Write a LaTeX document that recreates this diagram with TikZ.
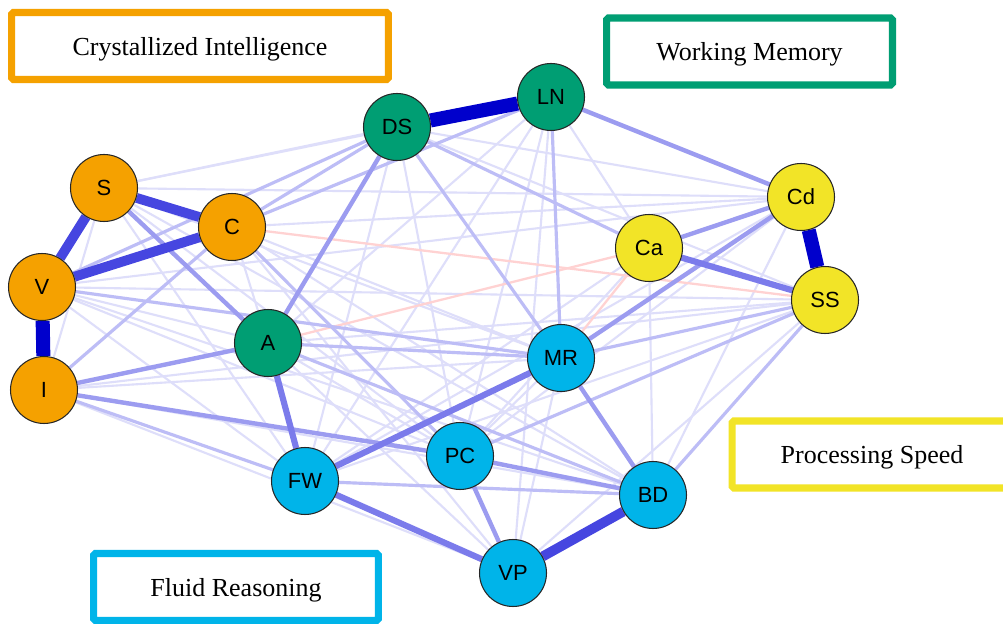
\documentclass[tikz,border=0pt]{standalone}
\usepackage{fontspec}
\setmainfont{Liberation Serif}
\newfontfamily\varfont{Liberation Sans}
\usetikzlibrary{positioning, backgrounds}

\definecolor{crycol}{HTML}{F5A100}
\definecolor{wmcol}{HTML}{009E73}
\definecolor{pscol}{HTML}{F2E427}
\definecolor{frcol}{HTML}{00B4E9}
\definecolor{eone}{HTML}{0000CC}
\definecolor{etwo}{HTML}{4646E0}
\definecolor{ethree}{HTML}{7B7BEB}
\definecolor{efour}{HTML}{9C9CF0}
\definecolor{efive}{HTML}{BDBDF6}
\definecolor{esix}{HTML}{DEDEFA}
\definecolor{eneg}{HTML}{FFD2D2}

\tikzset{
  var/.style={circle, draw=black!85, line width=0.6pt, minimum size=1.34cm,
    inner sep=0pt, font=\varfont\fontsize{12.5}{14}\selectfont},
  cry/.style={var, fill=crycol},
  wm/.style={var, fill=wmcol},
  ps/.style={var, fill=pscol},
  fr/.style={var, fill=frcol},
  legbox/.style={draw, line width=4pt, fill=white, rounded corners=1pt,
    font=\fontsize{14.8}{17}\selectfont, minimum height=1.34cm, text depth=0pt},
  wone/.style={eone, line width=8pt},
  wtwo/.style={etwo, line width=5.6pt},
  wthree/.style={ethree, line width=3.5pt},
  wfour/.style={efour, line width=2.5pt},
  wfive/.style={efive, line width=1.8pt},
  wsix/.style={esix, line width=1.2pt},
  wneg/.style={eneg, line width=1.3pt}
}

\begin{document}
\begin{tikzpicture}[x=0.02cm, y=-0.02cm]
  \useasboundingbox (0,0) rectangle (1003,624);
  \clip (0,0) rectangle (1003,624);

  % variables
  \node[cry] (S) at (104,188) {S};
  \node[cry] (C) at (232,227) {C};
  \node[cry] (V) at (42,287) {V};
  \node[cry] (I) at (44,390) {I};
  \node[wm] (A) at (268,343) {A};
  \node[wm] (DS) at (397,127) {DS};
  \node[wm] (LN) at (551,97) {LN};
  \node[ps] (Cd) at (801,197) {Cd};
  \node[ps] (Ca) at (649,248) {Ca};
  \node[ps] (SS) at (825,300) {SS};
  \node[fr] (MR) at (561,358) {MR};
  \node[fr] (PC) at (460,456) {PC};
  \node[fr] (FW) at (305,481) {FW};
  \node[fr] (BD) at (653,495) {BD};
  \node[fr] (VP) at (513,573) {VP};

  % factor labels
  \node[legbox, draw=crycol, minimum width=7.54cm] (cryl) at (200,46) {Crystallized Intelligence};
  \node[legbox, draw=wmcol, minimum width=5.72cm] (wml) at (749.5,51.5) {Working Memory};
  \node[legbox, draw=pscol, minimum width=5.6cm] (psl) at (872,454.5) {Processing Speed};
  \node[legbox, draw=frcol, minimum width=5.7cm] (frl) at (236,587) {Fluid Reasoning};

  \begin{scope}[on background layer]
    \fill[white] (0,0) rectangle (1003,624);
    % weak edges
    \foreach \a/\b in {S/DS, S/LN, S/Cd, S/MR, S/PC, S/FW, S/I, S/BD, C/LN, C/Cd,
        C/MR, C/A, C/BD, C/VP, V/A, V/FW, V/PC, V/Cd, V/SS, V/BD, I/MR, I/BD,
        I/VP, I/SS, A/PC, A/VP, A/LN, DS/FW, DS/PC, DS/Cd, DS/SS, LN/FW, LN/PC,
        LN/VP, LN/Ca, Ca/BD, Ca/PC, Ca/FW, Cd/PC, Cd/BD, Cd/FW, SS/VP, SS/FW,
        SS/A, MR/PC, MR/VP}
      \draw[wsix] (\a) -- (\b);
    \foreach \a/\b in {C/SS, A/Ca, MR/Ca}
      \draw[wneg] (\a) -- (\b);
    \foreach \a/\b in {DS/MR, LN/MR, C/PC, DS/C, V/DS, V/MR, SS/MR, SS/PC,
        SS/BD, DS/Ca, C/I, I/FW, FW/BD, A/BD, A/MR, LN/C}
      \draw[wfive] (\a) -- (\b);
    \foreach \a/\b in {MR/BD, LN/Cd, DS/A, A/I, PC/BD, PC/VP, Ca/Cd, MR/Cd,
        S/A, I/PC}
      \draw[wfour] (\a) -- (\b);
    \foreach \a/\b in {MR/FW, Ca/SS, FW/VP, A/FW}
      \draw[wthree] (\a) -- (\b);
    % strong edges
    \foreach \a/\b in {S/V, V/C, S/C, VP/BD}
      \draw[wtwo] (\a) -- (\b);
    \foreach \a/\b in {DS/LN, Cd/SS, V/I}
      \draw[wone] (\a) -- (\b);
  \end{scope}
\end{tikzpicture}
\end{document}
